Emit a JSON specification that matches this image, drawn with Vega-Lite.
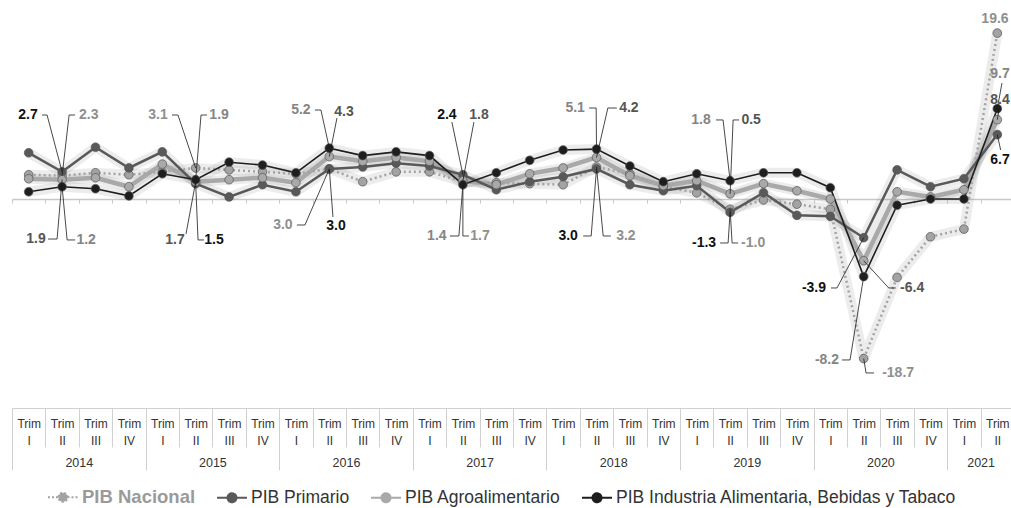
{
  "$schema": "https://vega.github.io/schema/vega-lite/v6.json",
  "width": 999,
  "height": 408,
  "autosize": "none",
  "padding": {"left": 12, "top": 0, "right": 0, "bottom": 100},
  "background": "white",
  "config": {"view": {"stroke": null}, "font": "Liberation Sans", "axis": {"labelFont": "Liberation Sans"}, "legend": {"labelFont": "Liberation Sans"}},
  "datasets": {
    "series": [
      {"quarter":0,"series":"Nac","value":2.4},{"quarter":1,"series":"Nac","value":2.3},{"quarter":2,"series":"Nac","value":2.6},{"quarter":3,"series":"Nac","value":2.4},{"quarter":4,"series":"Nac","value":2.7},{"quarter":5,"series":"Nac","value":3.1},{"quarter":6,"series":"Nac","value":2.9},{"quarter":7,"series":"Nac","value":2.7},{"quarter":8,"series":"Nac","value":2.5},{"quarter":9,"series":"Nac","value":3.0},{"quarter":10,"series":"Nac","value":1.7},{"quarter":11,"series":"Nac","value":2.7},{"quarter":12,"series":"Nac","value":2.7},{"quarter":13,"series":"Nac","value":1.7},{"quarter":14,"series":"Nac","value":1.6},{"quarter":15,"series":"Nac","value":1.5},{"quarter":16,"series":"Nac","value":1.4},{"quarter":17,"series":"Nac","value":3.2},{"quarter":18,"series":"Nac","value":2.5},{"quarter":19,"series":"Nac","value":1.2},{"quarter":20,"series":"Nac","value":0.6},{"quarter":21,"series":"Nac","value":-1.0},{"quarter":22,"series":"Nac","value":-0.1},{"quarter":23,"series":"Nac","value":-0.5},{"quarter":24,"series":"Nac","value":-1.0},{"quarter":25,"series":"Nac","value":-18.7},{"quarter":26,"series":"Nac","value":-8.3},{"quarter":27,"series":"Nac","value":-3.8},{"quarter":28,"series":"Nac","value":-3.0},{"quarter":29,"series":"Nac","value":19.6},
      {"quarter":0,"series":"Pri","value":4.7},{"quarter":1,"series":"Pri","value":2.7},{"quarter":2,"series":"Pri","value":5.3},{"quarter":3,"series":"Pri","value":3.1},{"quarter":4,"series":"Pri","value":4.8},{"quarter":5,"series":"Pri","value":1.5},{"quarter":6,"series":"Pri","value":0.2},{"quarter":7,"series":"Pri","value":1.4},{"quarter":8,"series":"Pri","value":0.7},{"quarter":9,"series":"Pri","value":3.0},{"quarter":10,"series":"Pri","value":3.2},{"quarter":11,"series":"Pri","value":3.6},{"quarter":12,"series":"Pri","value":3.3},{"quarter":13,"series":"Pri","value":2.4},{"quarter":14,"series":"Pri","value":0.9},{"quarter":15,"series":"Pri","value":1.7},{"quarter":16,"series":"Pri","value":2.2},{"quarter":17,"series":"Pri","value":3.0},{"quarter":18,"series":"Pri","value":1.4},{"quarter":19,"series":"Pri","value":0.8},{"quarter":20,"series":"Pri","value":1.3},{"quarter":21,"series":"Pri","value":-1.3},{"quarter":22,"series":"Pri","value":0.6},{"quarter":23,"series":"Pri","value":-1.6},{"quarter":24,"series":"Pri","value":-1.7},{"quarter":25,"series":"Pri","value":-3.9},{"quarter":26,"series":"Pri","value":2.9},{"quarter":27,"series":"Pri","value":1.2},{"quarter":28,"series":"Pri","value":2.0},{"quarter":29,"series":"Pri","value":6.7},
      {"quarter":0,"series":"Agro","value":2.0},{"quarter":1,"series":"Agro","value":1.9},{"quarter":2,"series":"Agro","value":2.1},{"quarter":3,"series":"Agro","value":1.2},{"quarter":4,"series":"Agro","value":3.5},{"quarter":5,"series":"Agro","value":1.7},{"quarter":6,"series":"Agro","value":1.9},{"quarter":7,"series":"Agro","value":2.1},{"quarter":8,"series":"Agro","value":1.6},{"quarter":9,"series":"Agro","value":4.3},{"quarter":10,"series":"Agro","value":3.8},{"quarter":11,"series":"Agro","value":4.2},{"quarter":12,"series":"Agro","value":3.8},{"quarter":13,"series":"Agro","value":1.8},{"quarter":14,"series":"Agro","value":1.4},{"quarter":15,"series":"Agro","value":2.5},{"quarter":16,"series":"Agro","value":3.1},{"quarter":17,"series":"Agro","value":4.2},{"quarter":18,"series":"Agro","value":2.3},{"quarter":19,"series":"Agro","value":1.3},{"quarter":20,"series":"Agro","value":1.8},{"quarter":21,"series":"Agro","value":0.5},{"quarter":22,"series":"Agro","value":1.5},{"quarter":23,"series":"Agro","value":0.8},{"quarter":24,"series":"Agro","value":0.0},{"quarter":25,"series":"Agro","value":-6.4},{"quarter":26,"series":"Agro","value":0.7},{"quarter":27,"series":"Agro","value":0.2},{"quarter":28,"series":"Agro","value":0.9},{"quarter":29,"series":"Agro","value":8.4},
      {"quarter":0,"series":"Ind","value":0.7},{"quarter":1,"series":"Ind","value":1.2},{"quarter":2,"series":"Ind","value":1.0},{"quarter":3,"series":"Ind","value":0.3},{"quarter":4,"series":"Ind","value":2.5},{"quarter":5,"series":"Ind","value":1.9},{"quarter":6,"series":"Ind","value":3.7},{"quarter":7,"series":"Ind","value":3.4},{"quarter":8,"series":"Ind","value":2.6},{"quarter":9,"series":"Ind","value":5.2},{"quarter":10,"series":"Ind","value":4.4},{"quarter":11,"series":"Ind","value":4.8},{"quarter":12,"series":"Ind","value":4.4},{"quarter":13,"series":"Ind","value":1.4},{"quarter":14,"series":"Ind","value":2.6},{"quarter":15,"series":"Ind","value":3.9},{"quarter":16,"series":"Ind","value":5.0},{"quarter":17,"series":"Ind","value":5.1},{"quarter":18,"series":"Ind","value":3.3},{"quarter":19,"series":"Ind","value":1.7},{"quarter":20,"series":"Ind","value":2.5},{"quarter":21,"series":"Ind","value":1.8},{"quarter":22,"series":"Ind","value":2.6},{"quarter":23,"series":"Ind","value":2.6},{"quarter":24,"series":"Ind","value":1.1},{"quarter":25,"series":"Ind","value":-8.2},{"quarter":26,"series":"Ind","value":-0.6},{"quarter":27,"series":"Ind","value":0.0},{"quarter":28,"series":"Ind","value":0.0},{"quarter":29,"series":"Ind","value":9.7}
    ],
    "labels": [
      {"quarter":1,"series":"Pri","value":2.7,"label":"2.7","tx":-0.02,"ty":8.95,"ex":0.55,"ey":8.95,"hx":0.4},
      {"quarter":1,"series":"Nac","value":2.3,"label":"2.3","tx":1.8,"ty":8.95,"ex":1.21,"ey":8.95,"hx":1.39},
      {"quarter":1,"series":"Agro","value":1.9,"label":"1.9","tx":0.22,"ty":-4.04,"ex":0.85,"ey":-4.04,"hx":0.58},
      {"quarter":1,"series":"Ind","value":1.2,"label":"1.2","tx":1.72,"ty":-4.14,"ex":1.15,"ey":-4.14,"hx":1.39},
      {"quarter":5,"series":"Nac","value":3.1,"label":"3.1","tx":3.87,"ty":8.95,"ex":4.47,"ey":8.95,"hx":4.29},
      {"quarter":5,"series":"Ind","value":1.9,"label":"1.9","tx":5.7,"ty":8.95,"ex":5.16,"ey":8.95,"hx":5.34},
      {"quarter":5,"series":"Agro","value":1.7,"label":"1.7","tx":4.38,"ty":-4.14,"ex":4.71,"ey":-3.51,"hx":4.71},
      {"quarter":5,"series":"Pri","value":1.5,"label":"1.5","tx":5.55,"ty":-4.14,"ex":5.07,"ey":-4.14,"hx":5.25},
      {"quarter":9,"series":"Ind","value":5.2,"label":"5.2","tx":8.15,"ty":9.54,"ex":8.75,"ey":9.54,"hx":8.57},
      {"quarter":9,"series":"Agro","value":4.3,"label":"4.3","tx":9.44,"ty":9.3,"ex":9.23,"ey":8.6,"hx":9.23},
      {"quarter":9,"series":"Nac","value":3.0,"label":"3.0","tx":7.61,"ty":-2.58,"ex":8.27,"ey":-2.58,"hx":8.03},
      {"quarter":9,"series":"Pri","value":3.0,"label":"3.0","tx":9.2,"ty":-2.68,"ex":9.11,"ey":-1.77,"hx":9.11},
      {"quarter":13,"series":"Pri","value":2.4,"label":"2.4","tx":12.52,"ty":8.95,"ex":12.67,"ey":8.13,"hx":12.67},
      {"quarter":13,"series":"Agro","value":1.8,"label":"1.8","tx":13.48,"ty":8.95,"ex":13.33,"ey":8.13,"hx":13.33},
      {"quarter":13,"series":"Ind","value":1.4,"label":"1.4","tx":12.22,"ty":-3.72,"ex":12.88,"ey":-3.72,"hx":12.61},
      {"quarter":13,"series":"Nac","value":1.7,"label":"1.7","tx":13.51,"ty":-3.72,"ex":13.0,"ey":-3.72,"hx":13.18},
      {"quarter":17,"series":"Ind","value":5.1,"label":"5.1","tx":16.36,"ty":9.78,"ex":16.99,"ey":9.78,"hx":16.78},
      {"quarter":17,"series":"Agro","value":4.2,"label":"4.2","tx":17.97,"ty":9.78,"ex":17.34,"ey":9.78,"hx":17.61},
      {"quarter":17,"series":"Pri","value":3.0,"label":"3.0","tx":16.15,"ty":-3.72,"ex":16.84,"ey":-3.72,"hx":16.6},
      {"quarter":17,"series":"Nac","value":3.2,"label":"3.2","tx":17.88,"ty":-3.72,"ex":17.2,"ey":-3.72,"hx":17.43},
      {"quarter":21,"series":"Ind","value":1.8,"label":"1.8","tx":20.13,"ty":8.37,"ex":20.79,"ey":8.37,"hx":20.58},
      {"quarter":21,"series":"Agro","value":0.5,"label":"0.5","tx":21.63,"ty":8.37,"ex":21.09,"ey":8.37,"hx":21.27},
      {"quarter":21,"series":"Pri","value":-1.3,"label":"-1.3","tx":20.22,"ty":-4.46,"ex":20.94,"ey":-4.46,"hx":20.7},
      {"quarter":21,"series":"Nac","value":-1.0,"label":"-1.0","tx":21.69,"ty":-4.46,"ex":21.06,"ey":-4.46,"hx":21.24},
      {"quarter":25,"series":"Pri","value":-3.9,"label":"-3.9","tx":23.51,"ty":-9.54,"ex":24.2,"ey":-9.54,"hx":24.02},
      {"quarter":25,"series":"Agro","value":-6.4,"label":"-6.4","tx":26.45,"ty":-9.54,"ex":25.75,"ey":-9.54,"hx":25.96},
      {"quarter":25,"series":"Ind","value":-8.2,"label":"-8.2","tx":23.9,"ty":-18.9,"ex":24.59,"ey":-18.9,"hx":24.35},
      {"quarter":25,"series":"Nac","value":-18.7,"label":"-18.7","tx":26.03,"ty":-20.77,"ex":25.07,"ey":-20.77,"hx":25.31},
      {"quarter":29,"series":"Nac","value":19.6,"label":"19.6","tx":28.93,"ty":21.66,"ex":null,"ey":null,"hx":null},
      {"quarter":29,"series":"Ind","value":9.7,"label":"9.7","tx":29.08,"ty":14.02,"ex":29.14,"ey":12.86,"hx":29.14},
      {"quarter":29,"series":"Agro","value":8.4,"label":"8.4","tx":29.08,"ty":10.75,"ex":29.06,"ey":9.78,"hx":29.06},
      {"quarter":29,"series":"Pri","value":6.7,"label":"6.7","tx":29.08,"ty":3.93,"ex":29.1,"ey":5.0,"hx":29.1}
    ]
  },
  "resolve": {"axis": {"x": "independent"}},
  "layer": [
    {
      "data": {"name": "series"},
      "mark": {"type": "line", "color": "#8a8a8a", "opacity": 0.16, "strokeWidth": 10, "strokeCap": "round", "strokeJoin": "round"},
      "encoding": {
        "x": {"field": "quarter", "type": "quantitative", "scale": {"domain": [-0.5, 29.41], "nice": false, "zero": false}, "axis": null},
        "y": {"field": "value", "type": "quantitative", "scale": {"type": "symlog", "constant": 40, "domain": [-26.11, 24.54], "nice": false, "zero": false}, "axis": null},
        "detail": {"field": "series", "type": "nominal"}
      }
    },
    {
      "data": {"name": "series"},
      "transform": [{"filter": "datum.series === 'Agro'"}],
      "mark": {"type": "line", "strokeWidth": 4.5, "strokeJoin": "round"},
      "encoding": {
        "x": {"field": "quarter", "type": "quantitative", "scale": {"domain": [-0.5, 29.41], "nice": false, "zero": false},
          "axis": {"orient": "bottom", "offset": -209, "values": [-0.5,0.5,1.5,2.5,3.5,4.5,5.5,6.5,7.5,8.5,9.5,10.5,11.5,12.5,13.5,14.5,15.5,16.5,17.5,18.5,19.5,20.5,21.5,22.5,23.5,24.5,25.5,26.5,27.5,28.5], "domain": true, "domainColor": "#c8c8c8", "domainWidth": 1.5, "ticks": true, "tickColor": "#c8c8c8", "tickSize": 4, "labels": false, "grid": false, "title": null}},
        "y": {"field": "value", "type": "quantitative", "scale": {"type": "symlog", "constant": 40, "domain": [-26.11, 24.54], "nice": false, "zero": false}, "axis": null},
        "color": {"field": "series", "type": "nominal", "scale": {"domain": ["Nac", "Pri", "Agro", "Ind"], "range": ["#a3a3a3", "#595959", "#a9a9a9", "#1e1e1e"]},
          "legend": {
            "orient": "none", "legendX": 40, "legendY": 486, "direction": "horizontal", "title": null,
            "symbolType": "M-1.5,0H-0.45M0.45,0H1.5M-0.45,0A0.45,0.45,0,1,1,0.45,0A0.45,0.45,0,1,1,-0.45,0Z",
            "symbolSize": 400, "symbolStrokeWidth": 2, "labelFontSize": 17.5, "labelColor": "#333333", "labelOffset": 8, "columnPadding": 17, "padding": 0, "labelLimit": 600,
            "labelExpr": "datum.label === 'Nac' ? 'PIB Nacional' : datum.label === 'Pri' ? 'PIB Primario' : datum.label === 'Agro' ? 'PIB Agroalimentario' : 'PIB Industria Alimentaria, Bebidas y Tabaco'",
            "encode": {
              "symbols": {"update": {"fill": {"scale": "color", "field": "value"}, "stroke": {"scale": "color", "field": "value"}, "strokeDash": {"signal": "datum.value === 'Nac' ? [2,2] : [1,0]"}}},
              "labels": {"update": {"fill": {"signal": "datum.value === 'Nac' ? '#9a9a9a' : '#333333'"}, "fontWeight": {"signal": "datum.value === 'Nac' ? 'bold' : 'normal'"}, "fontSize": {"signal": "datum.value === 'Nac' ? 18.5 : 17.5"}}}
            }
          }
        }
      }
    },
    {
      "data": {"name": "series"},
      "transform": [{"filter": "datum.series === 'Nac'"}],
      "mark": {"type": "line", "strokeWidth": 2.5, "strokeDash": [2, 3]},
      "encoding": {
        "x": {"field": "quarter", "type": "quantitative", "scale": {"domain": [-0.5, 29.41], "nice": false, "zero": false},
          "axis": {"orient": "bottom", "values": [-0.5,0.5,1.5,2.5,3.5,4.5,5.5,6.5,7.5,8.5,9.5,10.5,11.5,12.5,13.5,14.5,15.5,16.5,17.5,18.5,19.5,20.5,21.5,22.5,23.5,24.5,25.5,26.5,27.5,28.5], "domain": true, "domainColor": "#d0d0d0", "ticks": true, "tickColor": "#d0d0d0", "tickSize": 39, "labels": false, "grid": false, "title": null}},
        "y": {"field": "value", "type": "quantitative", "scale": {"type": "symlog", "constant": 40, "domain": [-26.11, 24.54], "nice": false, "zero": false}, "axis": null},
        "color": {"field": "series", "type": "nominal", "scale": {"domain": ["Nac", "Pri", "Agro", "Ind"], "range": ["#a3a3a3", "#595959", "#a9a9a9", "#1e1e1e"]}}
      }
    },
    {
      "data": {"name": "series"},
      "transform": [{"filter": "datum.series === 'Pri'"}],
      "mark": {"type": "line", "strokeWidth": 2.5},
      "encoding": {
        "x": {"field": "quarter", "type": "quantitative", "scale": {"domain": [-0.5, 29.41], "nice": false, "zero": false},
          "axis": {"orient": "bottom", "values": [-0.5,3.5,7.5,11.5,15.5,19.5,23.5,27.5], "domain": false, "ticks": true, "tickColor": "#d0d0d0", "tickSize": 62, "labels": false, "grid": false, "title": null}},
        "y": {"field": "value", "type": "quantitative", "scale": {"type": "symlog", "constant": 40, "domain": [-26.11, 24.54], "nice": false, "zero": false}, "axis": null},
        "color": {"field": "series", "type": "nominal", "scale": {"domain": ["Nac", "Pri", "Agro", "Ind"], "range": ["#a3a3a3", "#595959", "#a9a9a9", "#1e1e1e"]}}
      }
    },
    {
      "data": {"name": "series"},
      "transform": [{"filter": "datum.series === 'Ind'"}],
      "mark": {"type": "line", "strokeWidth": 1.6},
      "encoding": {
        "x": {"field": "quarter", "type": "quantitative", "scale": {"domain": [-0.5, 29.41], "nice": false, "zero": false},
          "axis": {"orient": "bottom", "values": [0,1,2,3,4,5,6,7,8,9,10,11,12,13,14,15,16,17,18,19,20,21,22,23,24,25,26,27,28,29], "domain": false, "ticks": false, "tickSize": 0, "labelExpr": "['Trim', ['I','II','III','IV'][datum.value % 4]]", "labelFontSize": 12, "labelColor": "#333333", "labelPadding": 10, "labelLineHeight": 17, "labelOverlap": false, "labelFlush": false, "labelBound": false, "labelAlign": "center", "grid": false, "title": null}},
        "y": {"field": "value", "type": "quantitative", "scale": {"type": "symlog", "constant": 40, "domain": [-26.11, 24.54], "nice": false, "zero": false}, "axis": null},
        "color": {"field": "series", "type": "nominal", "scale": {"domain": ["Nac", "Pri", "Agro", "Ind"], "range": ["#a3a3a3", "#595959", "#a9a9a9", "#1e1e1e"]}}
      }
    },
    {
      "data": {"name": "series"},
      "mark": {"type": "point", "filled": true, "size": 75, "opacity": 1, "stroke": "#555555", "strokeWidth": 0.7},
      "encoding": {
        "x": {"field": "quarter", "type": "quantitative", "scale": {"domain": [-0.5, 29.41], "nice": false, "zero": false},
          "axis": {"orient": "bottom", "values": [1.5,5.5,9.5,13.5,17.5,21.5,25.5,28.5], "domain": false, "ticks": false, "tickSize": 0, "labelExpr": "'' + (2014 + floor(datum.value / 4))", "labelFontSize": 12.5, "labelColor": "#333333", "labelPadding": 48, "labelOverlap": false, "labelFlush": false, "labelBound": false, "grid": false, "title": null}},
        "y": {"field": "value", "type": "quantitative", "scale": {"type": "symlog", "constant": 40, "domain": [-26.11, 24.54], "nice": false, "zero": false}, "axis": null},
        "color": {"field": "series", "type": "nominal", "scale": {"domain": ["Nac", "Pri", "Agro", "Ind"], "range": ["#a3a3a3", "#595959", "#a9a9a9", "#1e1e1e"]}}
      }
    },
    {
      "data": {"name": "labels"},
      "transform": [{"filter": "isValid(datum.ex)"}],
      "mark": {"type": "rule", "color": "#1a1a1a", "strokeWidth": 0.8},
      "encoding": {
        "x": {"field": "quarter", "type": "quantitative", "scale": {"domain": [-0.5, 29.41], "nice": false, "zero": false}, "axis": null},
        "y": {"field": "value", "type": "quantitative", "scale": {"type": "symlog", "constant": 40, "domain": [-26.11, 24.54], "nice": false, "zero": false}, "axis": null},
        "x2": {"field": "ex"},
        "y2": {"field": "ey"}
      }
    },
    {
      "data": {"name": "labels"},
      "transform": [{"filter": "isValid(datum.ex)"}],
      "mark": {"type": "rule", "color": "#1a1a1a", "strokeWidth": 0.8},
      "encoding": {
        "x": {"field": "ex", "type": "quantitative", "scale": {"domain": [-0.5, 29.41], "nice": false, "zero": false}, "axis": null},
        "x2": {"field": "hx"},
        "y": {"field": "ey", "type": "quantitative", "scale": {"type": "symlog", "constant": 40, "domain": [-26.11, 24.54], "nice": false, "zero": false}, "axis": null}
      }
    },
    {
      "data": {"name": "labels"},
      "mark": {"type": "text", "fontSize": 14, "fontWeight": "bold", "font": "Liberation Sans", "align": "center", "baseline": "middle"},
      "encoding": {
        "x": {"field": "tx", "type": "quantitative", "scale": {"domain": [-0.5, 29.41], "nice": false, "zero": false}, "axis": null},
        "y": {"field": "ty", "type": "quantitative", "scale": {"type": "symlog", "constant": 40, "domain": [-26.11, 24.54], "nice": false, "zero": false}, "axis": null},
        "text": {"field": "label", "type": "nominal"},
        "fill": {"field": "series", "type": "nominal", "scale": {"domain": ["Nac", "Pri", "Agro", "Ind"], "range": ["#8f8f8f", "#111111", "#555555", "#858585"]}, "legend": null}
      }
    }
  ]
}
